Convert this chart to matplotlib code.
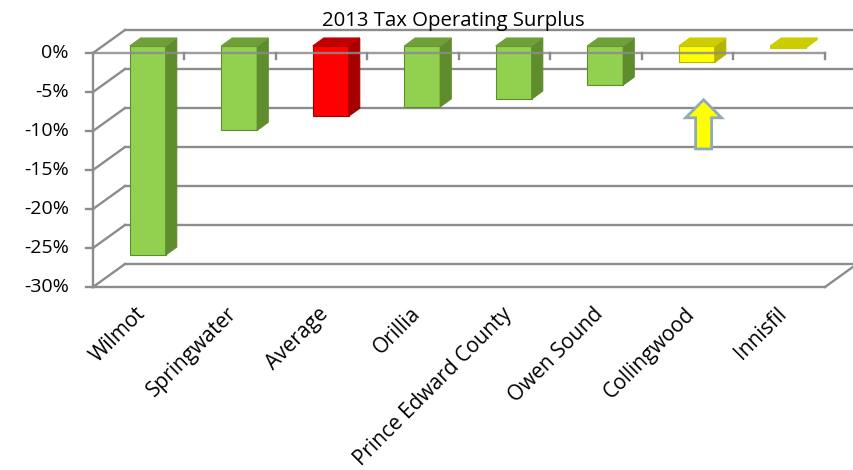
import matplotlib
matplotlib.use("Agg")
import matplotlib.pyplot as plt
from matplotlib.patches import Polygon, FancyArrow

# 2013 tax operating surplus (percent)
towns = ["Wilmot", "Springwater", "Average", "Orillia", "Prince Edward County",
         "Owen Sound", "Collingwood", "Innisfil"]
surplus = [-26.8, -10.8, -9.0, -7.8, -6.8, -5.0, -2.1, -0.2]
bar_kind = ["green", "green", "red", "green", "green", "green", "yellow", "yellow"]
yticks = [0, -5, -10, -15, -20, -25, -30]
ytick_labels = ["0%", "-5%", "-10%", "-15%", "-20%", "-25%", "-30%"]

# face colours per bar kind: front, side, top
faces = {
    "green": ("#92D050", "#5F8C2C", "#6F9F39"),
    "red": ("#FF0000", "#A40000", "#C00000"),
    "yellow": ("#FFFF00", "#B4B400", "#CCCC00"),
}
innisfil_top = "#CCCC00"

plt.rcParams['font.family'] = ['Open Sans', 'DejaVu Sans']

W, H, DPI = 854, 470, 100
fig = plt.figure(figsize=(W / DPI, H / DPI), dpi=DPI)
ax = fig.add_axes([0, 0, 1, 1])
ax.axis("off")

# pixel geometry of the front plane
x0_px, cat_px = 93.0, 91.5
y0_px, pct_px = 53.0, 7.8
ax.set_xlim(-x0_px / cat_px, (W - x0_px) / cat_px)
ax.set_ylim(-(H - y0_px) / pct_px, y0_px / pct_px)

n = len(towns)
ymin = min(yticks)
# depth of the back wall and of each bar (in data units)
wall_dx, wall_dy = 32 / cat_px, 23 / pct_px
bar_ox, bar_oy = 9 / cat_px, 7 / pct_px
bar_dx, bar_dy = 11 / cat_px, 8 / pct_px
bar_w = 36 / cat_px

grid_c = "#8C8C8C"
lw = 1.7

# back wall gridlines, side wall diagonals and value labels
for v, lab in zip(yticks, ytick_labels):
    ax.plot([wall_dx, n + wall_dx], [v + wall_dy, v + wall_dy], color=grid_c, lw=lw, zorder=1)
    ax.plot([0, wall_dx], [v, v + wall_dy], color=grid_c, lw=lw, zorder=1)
    ax.plot([-7 / cat_px, 0], [v, v], color=grid_c, lw=lw, zorder=1)
    ax.text(-24 / cat_px, v, lab, ha="right", va="center", fontsize=14, color="black")

# left edge, floor and right floor edge
ax.plot([0, 0], [0, ymin], color=grid_c, lw=lw, zorder=1)
ax.plot([0, n], [ymin, ymin], color=grid_c, lw=lw, zorder=1)
ax.plot([n, n + wall_dx], [ymin, ymin + wall_dy], color=grid_c, lw=lw, zorder=1)

# 3D bars
for i, (v, kind) in enumerate(zip(surplus, bar_kind)):
    front, side, top = faces[kind]
    if towns[i] == "Innisfil":
        front = side = top = innisfil_top
    xl = i + 0.5 - bar_w / 2 + bar_ox
    xr = xl + bar_w
    yt = bar_oy
    yb = v + bar_oy
    ax.add_patch(Polygon([(xl, yb), (xr, yb), (xr, yt), (xl, yt)], closed=True,
                         facecolor=front, edgecolor=side, lw=0.8, zorder=3))
    ax.add_patch(Polygon([(xr, yb), (xr + bar_dx, yb + bar_dy), (xr + bar_dx, yt + bar_dy),
                          (xr, yt)], closed=True, facecolor=side, edgecolor=side, lw=0.8,
                         zorder=3))
    ax.add_patch(Polygon([(xl, yt), (xr, yt), (xr + bar_dx, yt + bar_dy),
                          (xl + bar_dx, yt + bar_dy)], closed=True, facecolor=top,
                         edgecolor=top, lw=0.8, zorder=3))

# category axis on the front plane, over the bars
ax.plot([0, n], [0, 0], color=grid_c, lw=lw, alpha=0.85, zorder=4)
for k in range(1, n + 1):
    ax.plot([k, k], [0, -6 / pct_px], color=grid_c, lw=lw, zorder=4)

# category labels
for i, name in enumerate(towns):
    ax.text(i + 0.46, ymin - 2.1, name, rotation=45, rotation_mode="anchor",
            ha="right", va="top", fontsize=15, color="black")

# arrow pointing at Collingwood
ci = towns.index("Collingwood")
ax.add_patch(FancyArrow(ci + 0.5 + bar_ox + 0.075, -12.3, 0, 6.3, width=16 / cat_px,
                        head_width=36 / cat_px, head_length=18 / pct_px,
                        length_includes_head=True, facecolor="#FFFF00",
                        edgecolor="#8FAAB8", lw=2, zorder=5))

fig.text(453 / W, 1 - 21 / H, "2013 Tax Operating Surplus", ha="center", va="center",
         fontsize=14.7, color="black")

fig.savefig("out.png", dpi=DPI)
